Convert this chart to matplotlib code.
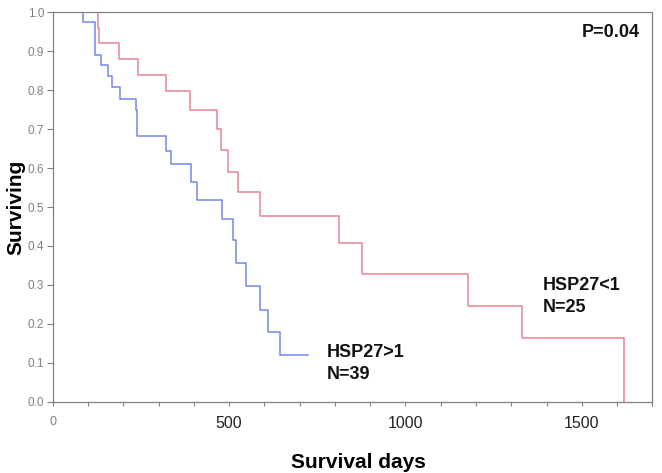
import matplotlib
matplotlib.use("Agg")
import matplotlib.pyplot as plt
from matplotlib.ticker import MultipleLocator

plt.rcParams["font.family"] = ["Liberation Sans", "DejaVu Sans"]

# Kaplan-Meier steps (days, surviving fraction after drop)
HIGH_T = [0, 86, 120, 138, 157, 169, 191, 235, 238, 321, 334, 391, 409,
          480, 510, 520, 548, 588, 609, 645]
HIGH_S = [1.0, 0.974, 0.890, 0.865, 0.836, 0.807, 0.778, 0.748, 0.683,
          0.645, 0.610, 0.565, 0.518, 0.468, 0.415, 0.355, 0.297, 0.235,
          0.178, 0.120]
HIGH_END = 725

LOW_T = [0, 129, 131, 188, 242, 321, 388, 466, 477, 496, 525, 587, 812,
         876, 1178, 1330, 1620]
LOW_S = [1.0, 0.960, 0.920, 0.880, 0.840, 0.797, 0.749, 0.700, 0.646,
         0.590, 0.538, 0.478, 0.408, 0.329, 0.245, 0.164, 0.0]

RED = "#e8848f"
BLUE = "#7388e6"
GREY = "#808080"

fig = plt.figure(figsize=(6.62, 4.73), dpi=100)
ax = fig.add_axes([0.0796, 0.1507, 0.9058, 0.8233])

ax.step(HIGH_T + [HIGH_END], HIGH_S + [HIGH_S[-1]], where="post",
        color=BLUE, lw=1.1)
ax.step(LOW_T, LOW_S, where="post", color=RED, lw=1.1)

ax.set_xlim(0, 1700)
ax.set_ylim(0, 1.0)
ax.set_yticks([i / 10 for i in range(11)])
ax.set_yticklabels([f"{i / 10:.1f}" for i in range(11)])
ax.set_xticks([0, 500, 1000, 1500])
ax.set_xticklabels(["0", "500", "1000", "1500"])
ax.xaxis.set_minor_locator(MultipleLocator(100))

for s in ax.spines.values():
    s.set_color(GREY)
    s.set_linewidth(0.9)
ax.tick_params(axis="y", colors=GREY, labelcolor=GREY, labelsize=8.5,
               length=4, width=0.8, pad=2)
ax.tick_params(axis="x", which="both", colors=GREY, length=3, width=0.8)
ax.tick_params(axis="x", labelcolor="#222222", labelsize=11.5, pad=7)
lab0 = ax.get_xticklabels()[0]
lab0.set_color(GREY)
lab0.set_fontsize(9)

ax.set_ylabel("Surviving", fontsize=15, fontweight="bold")
ax.yaxis.set_label_coords(-0.045, 0.5)
ax.set_xlabel("Survival days", fontsize=15, fontweight="bold")
ax.xaxis.set_label_coords(0.51, -0.131)

ax.text(1665, 0.947, "P=0.04", ha="right", va="center", fontsize=13,
        fontweight="bold", color="#111111")
ax.text(1390, 0.271, "HSP27<1\nN=25", ha="left", va="center", fontsize=13,
        fontweight="bold", color="#111111", linespacing=1.4)
ax.text(777, 0.099, "HSP27>1\nN=39", ha="left", va="center", fontsize=13,
        fontweight="bold", color="#111111", linespacing=1.4)

fig.savefig("out.png", dpi=100)
